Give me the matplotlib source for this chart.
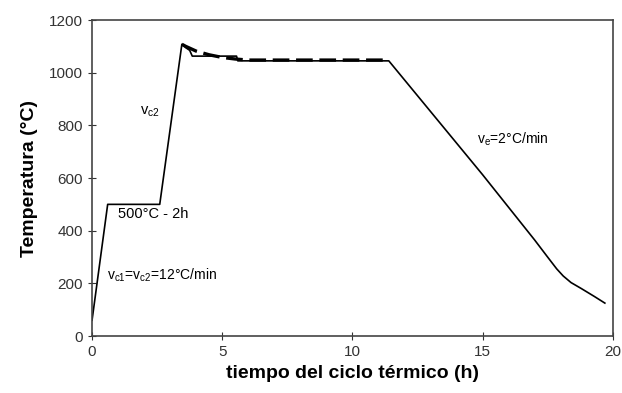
import matplotlib
matplotlib.use('Agg')
import matplotlib.pyplot as plt

plt.rcParams['font.family'] = ['Liberation Sans', 'DejaVu Sans']
plt.rcParams['mathtext.default'] = 'regular'

# ciclo termico - curva continua
t_ciclo = [0.0, 0.6, 2.6, 3.45, 3.6, 3.75, 3.85, 5.55, 5.6, 11.4,
           13.0, 15.0, 17.0, 17.5, 17.85, 18.1, 18.4, 18.8, 19.3, 19.7]
T_ciclo = [60, 500, 500, 1108, 1095, 1085, 1063, 1063, 1045, 1045,
           853, 613, 365, 300, 255, 228, 203, 180, 150, 125]

# curva discontinua (zona de mantenimiento)
t_disc = [3.45, 3.6, 4.0, 4.5, 5.0, 5.5, 6.0, 11.4]
T_disc = [1108, 1100, 1082, 1068, 1058, 1052, 1048, 1048]

fig = plt.figure(figsize=(6.22, 3.93), dpi=100)
ax = fig.add_axes([0.148, 0.145, 0.837, 0.804])

ax.plot(t_ciclo, T_ciclo, color='black', lw=1.2)
ax.plot(t_disc, T_disc, color='black', lw=2.4, ls=(0, (5, 2)))

ax.set_xlim(0, 20)
ax.set_ylim(0, 1200)
ax.set_xticks([0, 5, 10, 15, 20])
ax.set_yticks(range(0, 1201, 200))
ax.tick_params(direction='inout', length=6, labelsize=11, colors='#333333')
for s in ax.spines.values():
    s.set_color('#444444')
    s.set_linewidth(1.2)

ax.set_xlabel('tiempo del ciclo térmico (h)', fontsize=14, fontweight='bold', labelpad=4)
ax.set_ylabel('Temperatura (°C)', fontsize=14, fontweight='bold', labelpad=8)

ax.text(1.85, 840, r'v$_{c2}$', fontsize=10.5)
ax.text(1.0, 448, '500°C - 2h', fontsize=10.5)
ax.text(0.58, 213, r'v$_{c1}$=v$_{c2}$=12°C/min', fontsize=10)
ax.text(14.8, 730, r'v$_{e}$=2°C/min', fontsize=10)

fig.savefig('out.png', dpi=100)
